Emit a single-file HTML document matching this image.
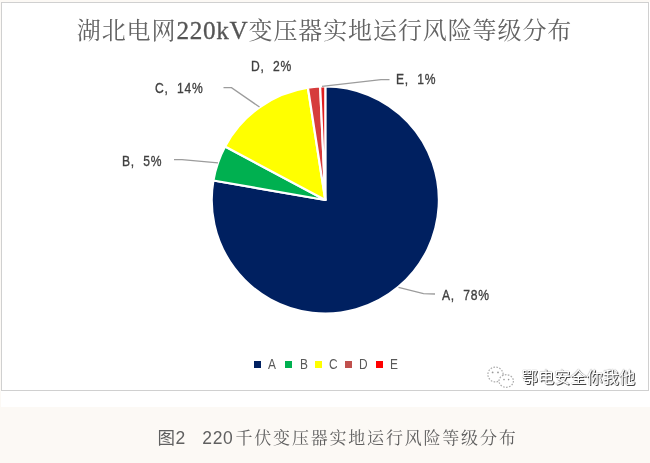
<!DOCTYPE html>
<html lang="zh-CN">
<head>
<meta charset="utf-8">
<title>图2 220千伏变压器实地运行风险等级分布</title>
<style>
html,body{margin:0;padding:0;}
body{width:650px;height:463px;background:#fcf9f5;position:relative;overflow:hidden;font-family:"Liberation Sans","Noto Sans CJK SC",sans-serif;}
.fig{position:absolute;left:1px;top:2px;width:649px;height:405px;background:#fff;}
.frame{position:absolute;left:0;top:0;width:646px;height:386.5px;border:1px solid #d0d0d0;}
svg{position:absolute;left:0;top:0;}
.title{position:absolute;left:0;top:13px;width:649px;text-align:center;font-family:"Liberation Serif","Noto Serif CJK SC",serif;font-size:24px;letter-spacing:0.9px;line-height:36px;color:#636363;white-space:nowrap;}
.title .lt{letter-spacing:0.7px;font-size:25.2px;color:#555;-webkit-text-stroke:0.3px #555;}
.lab{position:absolute;font-size:15.5px;line-height:16px;letter-spacing:1px;color:#404040;white-space:pre;transform:scaleX(0.78);transform-origin:0 0;-webkit-text-stroke:0.35px #404040;}
.leg{position:absolute;font-size:14px;line-height:16px;color:#595959;white-space:pre;transform:scaleX(0.85);transform-origin:0 0;}
.sq{position:absolute;width:7.2px;height:7.4px;top:361.1px;}
.wm{position:absolute;left:521.8px;top:366.4px;font-size:16.2px;line-height:22px;color:#fff;white-space:nowrap;text-shadow:1px 1px 0.5px #444,0 0 1px #666;font-family:"Liberation Sans","Noto Sans CJK SC",sans-serif;}
.cap{position:absolute;left:157.5px;top:424.5px;font-size:17.5px;line-height:26px;color:#606060;white-space:pre;letter-spacing:0.6px;}
.cap .s{font-family:"Liberation Serif","Noto Serif CJK SC",serif;font-size:17px;letter-spacing:1.8px;margin-left:2.2px;}
</style>
</head>
<body>
<div class="fig"><div class="frame"></div></div>
<svg width="650" height="463" viewBox="0 0 650 463">
<path d="M325.30,200.00 L325.30,86.40 A113.6,113.6 0 1 1 213.39,180.47 Z" fill="#002060" stroke="#fff" stroke-width="2.2" stroke-linejoin="round"/>
<path d="M325.30,200.00 L213.39,180.47 A113.6,113.6 0 0 1 225.09,146.49 Z" fill="#00b050" stroke="#fff" stroke-width="2.2" stroke-linejoin="round"/>
<path d="M325.30,200.00 L225.09,146.49 A113.6,113.6 0 0 1 307.92,87.74 Z" fill="#ffff00" stroke="#fff" stroke-width="2.2" stroke-linejoin="round"/>
<path d="M325.30,200.00 L307.92,87.74 A113.6,113.6 0 0 1 320.15,86.52 Z" fill="#d63c3c" stroke="#fff" stroke-width="2.2" stroke-linejoin="round"/>
<path d="M325.30,200.00 L320.15,86.52 A113.6,113.6 0 0 1 325.30,86.40 Z" fill="#e02020" stroke="#fff" stroke-width="2.2" stroke-linejoin="round"/>
<g fill="none" stroke="#9c9c9c" stroke-width="1.3">
<polyline points="223.5,87.7 231.5,87.7 259.5,107"/>
<polyline points="174,159.7 182,159.7 218,162.8"/>
<polyline points="322,86.4 381,79.6 389.5,79.6"/>
<polyline points="398.5,287.4 423.5,293.6 435,294"/>
</g>
<g fill="#fff" stroke="#adadad" stroke-width="1.2" stroke-dasharray="1.6 1.4">
<ellipse cx="495.5" cy="374.5" rx="7.6" ry="7.4"/>
<ellipse cx="506.2" cy="381" rx="7.2" ry="6.3"/>
</g>
<g fill="#9a9a9a">
<circle cx="492.6" cy="372.4" r="0.9"/><circle cx="498" cy="372.4" r="0.9"/>
<circle cx="504" cy="379.6" r="0.8"/><circle cx="508.6" cy="379.6" r="0.8"/>
</g>
</svg>
<div class="title">湖北电网<span class="lt">220kV</span>变压器实地运行风险等级分布</div>
<div class="lab" style="left:155px;top:80px;">C,  14%</div>
<div class="lab" style="left:251px;top:58px;">D,  2%</div>
<div class="lab" style="left:396px;top:71px;">E,  1%</div>
<div class="lab" style="left:122px;top:153px;">B,  5%</div>
<div class="lab" style="left:442px;top:287px;">A,  78%</div>
<div class="sq" style="left:254.2px;background:#002060"></div><div class="leg" style="left:268px;top:356px;">A</div>
<div class="sq" style="left:284.8px;background:#00b050"></div><div class="leg" style="left:299.6px;top:356px;">B</div>
<div class="sq" style="left:314.9px;background:#ffff00"></div><div class="leg" style="left:328.6px;top:356px;">C</div>
<div class="sq" style="left:345.3px;background:#c0504d"></div><div class="leg" style="left:359.2px;top:356px;">D</div>
<div class="sq" style="left:375.9px;background:#ff0000"></div><div class="leg" style="left:389.5px;top:356px;">E</div>
<div class="wm">鄂电安全你我他</div>
<div class="cap">图2   220<span class="s">千伏变压器实地运行风险等级分布</span></div>
</body>
</html>
